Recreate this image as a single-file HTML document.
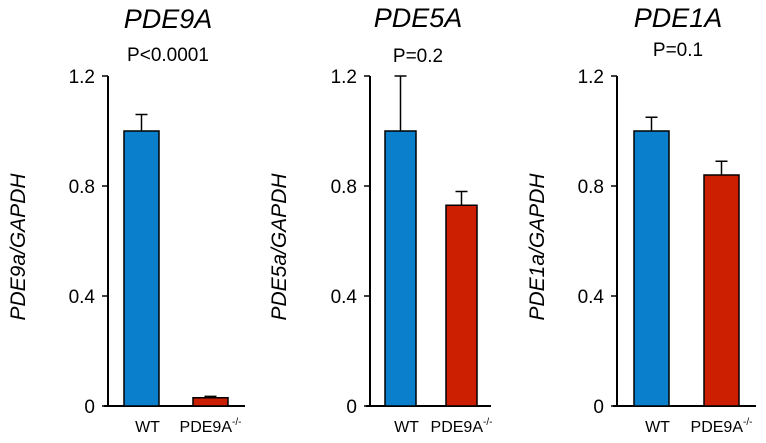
<!DOCTYPE html>
<html><head><meta charset="utf-8"><style>
body{margin:0;background:#fff}
svg{display:block;font-family:"Liberation Sans",Arial,sans-serif}
</style></head><body>
<svg id="chart" width="766" height="443" viewBox="0 0 766 443"></svg>
<script>
const categories = ["WT", "PDE9A-/-"];
const genes = ["PDE9A", "PDE5A", "PDE1A"];
const pValues = ["P<0.0001", "P=0.2", "P=0.1"];
const yLabels = ["PDE9a/GAPDH", "PDE5a/GAPDH", "PDE1a/GAPDH"];
const meansPDE9A = [1.0, 0.03];
const errPDE9A = [0.06, 0.005];
const meansPDE5A = [1.0, 0.73];
const errPDE5A = [0.2, 0.05];
const meansPDE1A = [1.0, 0.84];
const errPDE1A = [0.05, 0.05];
const yTicks = [0, 0.4, 0.8, 1.2];
const tickLabels = ["0", "0.4", "0.8", "1.2"];

const means = [meansPDE9A, meansPDE5A, meansPDE1A];
const errs = [errPDE9A, errPDE5A, errPDE1A];
const layout = [
  {ax:108, xEnd:245, bars:[124,193], bw:35, title:168, pY:61, ylx:25, titleY:28},
  {ax:370, xEnd:491, bars:[385,446], bw:31, title:418, pY:62, ylx:286, titleY:27},
  {ax:617, xEnd:756, bars:[634,704], bw:35, title:678, pY:56, ylx:544, titleY:27}
];
const y0 = 406, yTop = 76, yMax = 1.2;
const yScale = v => y0 - (v / yMax) * (y0 - yTop);
const colors = ["#0a80cc", "#cc1e00"];
const svg = document.getElementById('chart');
const NS = "http://www.w3.org/2000/svg";
function mk(tag, attrs, parent){const e=document.createElementNS(NS,tag);for(const k in attrs)e.setAttribute(k,attrs[k]);(parent||svg).appendChild(e);return e;}

genes.forEach((g, p) => {
  const L = layout[p];
  const grp = mk('g', {});
  
  
  const t = mk('text', {x:L.title, y:L.titleY, 'text-anchor':'middle', 'font-size':27, 'font-style':'italic'}, grp);
  t.textContent = g;
  
  
  const pv = mk('text', {x:L.title, y:L.pY, 'text-anchor':'middle', 'font-size':19}, grp);
  pv.textContent = pValues[p];
  
  
  const yl = mk('text', {x:0, y:0, 'text-anchor':'middle', 'font-size':21, 'font-style':'italic', transform:`translate(${L.ylx},${(y0+yTop)/2+6}) rotate(-90)`}, grp);
  yl.textContent = yLabels[p];
  
  
  const yAx = mk('line', {x1:L.ax, x2:L.ax, y1:yScale(yMax), y2:y0, stroke:'#000', 'stroke-width':2}, grp);
  
  
  yTicks.forEach((v, i) => {
    mk('line', {x1:L.ax-6, x2:L.ax, y1:yScale(v), y2:yScale(v), stroke:'#000', 'stroke-width':1.5}, grp);
    const tl = mk('text', {x:L.ax-13, y:yScale(v)+7, 'text-anchor':'end', 'font-size':19}, grp);
    tl.textContent = tickLabels[i];
    
    
  });
  const xAx = mk('line', {x1:L.ax-4, x2:L.xEnd, y1:y0, y2:y0, stroke:'#000', 'stroke-width':2}, grp);
  
  
  categories.forEach((c, i) => {
    const x = L.bars[i], v = means[p][i], e = errs[p][i], cx = x + L.bw/2;
    mk('line', {x1:cx, x2:cx, y1:yScale(v), y2:yScale(v+e), stroke:'#000', 'stroke-width':1.5}, grp);
    mk('line', {x1:cx-6, x2:cx+6, y1:yScale(v+e), y2:yScale(v+e), stroke:'#000', 'stroke-width':1.5}, grp);
    const b = mk('rect', {x:x, y:yScale(v), width:L.bw, height:y0-yScale(v), fill:colors[i], stroke:'#000', 'stroke-width':1.5}, grp);
    
    
    const xl = mk('text', {x:cx + (i===0?6:0), y:y0+26, 'text-anchor':'middle', 'font-size':16}, grp);
    if (i === 0) xl.textContent = c;
    else {
      xl.textContent = "PDE9A";
      const s = mk('tspan', {'font-size':10, dy:-7}, xl);
      s.textContent = "-/-";
    }
    
    
  });
});
</script>
</body></html>
